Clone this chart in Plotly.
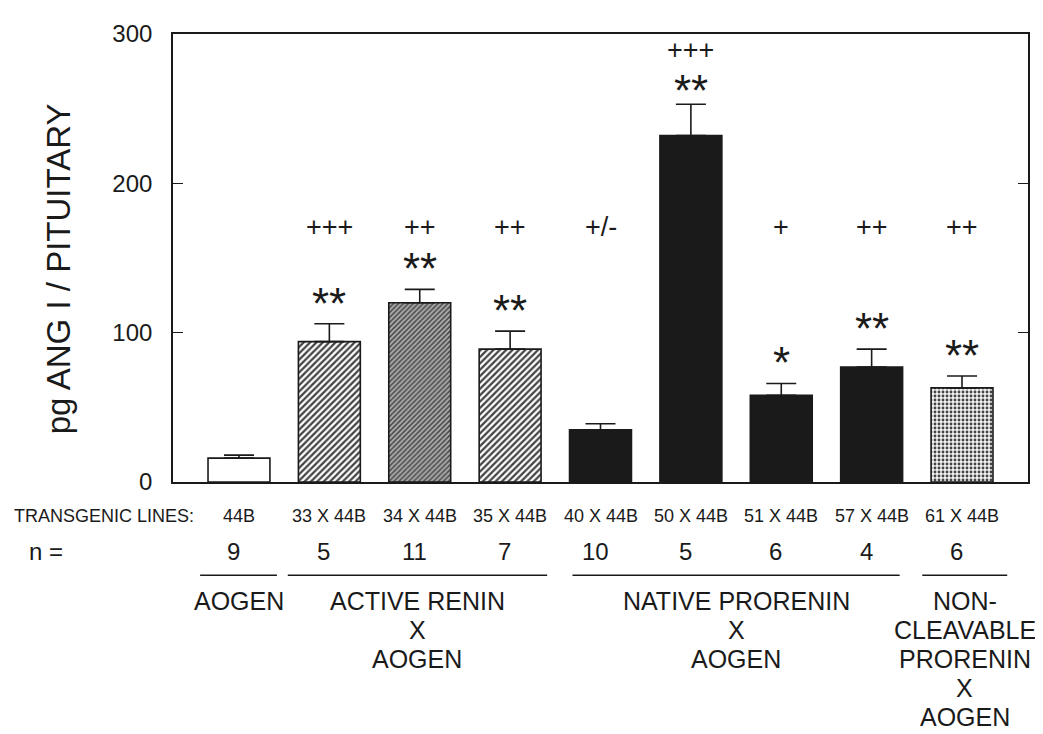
import plotly.graph_objects as go

# ---- data ----
lines = ["44B", "33 X 44B", "34 X 44B", "35 X 44B", "40 X 44B",
         "50 X 44B", "51 X 44B", "57 X 44B", "61 X 44B"]
values = [16, 94, 120, 89, 35, 232, 58, 77, 63]
errors = [2, 12, 9, 12, 4, 21, 8, 12, 8]
n_values = [9, 5, 11, 7, 10, 5, 6, 4, 6]
stars = ["", "**", "**", "**", "", "**", "*", "**", "**"]
pluses = ["", "+++", "++", "++", "+/-", "+++", "+", "++", "++"]
group_labels = ["AOGEN", "ACTIVE RENIN<br>X<br>AOGEN",
                "NATIVE PRORENIN<br>X<br>AOGEN",
                "NON-<br>CLEAVABLE<br>PRORENIN<br>X<br>AOGEN"]
group_members = [[0], [1, 2, 3], [4, 5, 6, 7], [8]]
y_ticks = [0, 100, 200, 300]
y_title = "pg ANG I / PITUITARY"

FONT = "Liberation Sans, Arial, sans-serif"
INK = "#1a1a1a"

# ---- styling per bar ----
fills = ["white", "white", "#b0b0b0", "white", INK, INK, INK, INK, "#f1f1f1"]
shapes_p = ["", "/", "/", "/", "", "", "", "", "."]
fg = [INK, "#1e1e1e", "#4a4a4a", "#1e1e1e", INK, INK, INK, INK, "#a8a8a8"]
sol = [0.3, 0.5, 0.45, 0.5, 0.3, 0.3, 0.3, 0.3, 0.4]
psize = [6, 4.5, 3.5, 4.5, 6, 6, 6, 6, 4]

x = list(range(len(lines)))

# page offset: the browser body adds 8 px around the figure
OFF = 8
# screen-pixel frame of the plotting area in the reference
SL, SR, ST, SB = 173, 1028, 25, 482
L = SL - OFF
T = ST - OFF
R = 1043 - (SR - OFF)
B = 734 - (SB - OFF)
H = SB - ST
W = SR - SL


def py(p):
    return (SB - p) / H


def px(p):
    return (p - SL) / W


fig = go.Figure()
fig.add_trace(go.Bar(
    x=x, y=values, width=0.685,
    marker=dict(color=fills, line=dict(color=INK, width=1.6),
                pattern=dict(shape=shapes_p, fgcolor=fg, fgopacity=1,
                             size=psize, solidity=sol, fillmode="overlay")),
    error_y=dict(type="data", array=errors, arrayminus=[0] * len(errors),
                 symmetric=False, color=INK, thickness=1.6, width=15),
    showlegend=False, hoverinfo="skip",
))

ann = []
# stars (box trimmed tightly around the asterisk glyphs) and plus signs
PLUS_LEVEL = 171
for i in x:
    top = values[i] + errors[i]
    crowded = (pluses[i] and i == 5)
    if stars[i]:
        ann.append(dict(x=i, y=top, xref="x", yref="y", text=stars[i],
                        showarrow=False, yanchor="middle",
                        yshift=25 if crowded else 32,
                        height=26, valign="top",
                        font=dict(family=FONT, size=44, color=INK)))
    if pluses[i]:
        if crowded:
            ann.append(dict(x=i, y=top, xref="x", yref="y", text=pluses[i],
                            showarrow=False, yanchor="middle", yshift=54,
                            font=dict(family=FONT, size=27, color=INK)))
        else:
            ann.append(dict(x=i, y=PLUS_LEVEL, xref="x", yref="y",
                            text=pluses[i], showarrow=False,
                            yanchor="middle",
                            font=dict(family=FONT, size=27, color=INK)))

# transgenic lines row
ann.append(dict(x=px(12), y=py(517), xref="paper", yref="paper",
                text="TRANSGENIC LINES:", showarrow=False, xanchor="left",
                yanchor="middle", font=dict(family=FONT, size=18, color=INK)))
for i in x:
    ann.append(dict(x=i, y=py(517), xref="x", yref="paper", text=lines[i],
                    showarrow=False, yanchor="middle",
                    font=dict(family=FONT, size=18, color=INK)))
# n row
ann.append(dict(x=px(27), y=py(553), xref="paper", yref="paper",
                text="n =", showarrow=False, xanchor="left",
                yanchor="middle", font=dict(family=FONT, size=24, color=INK)))
for i in x:
    ann.append(dict(x=i - 0.06, y=py(553), xref="x", yref="paper",
                    text=str(n_values[i]), showarrow=False, yanchor="middle",
                    font=dict(family=FONT, size=24, color=INK)))

# group underlines and labels (one annotation per text line)
pads = [(0.43, 0.42), (0.46, 0.41), (0.31, 0.31), (0.44, 0.5)]
shapes = []
for g, members in enumerate(group_members):
    x0 = members[0] - pads[g][0]
    x1 = members[-1] + pads[g][1]
    shapes.append(dict(type="line", xref="x", yref="paper", x0=x0, x1=x1,
                       y0=py(577), y1=py(577),
                       line=dict(color=INK, width=1.5)))
    for k, part in enumerate(group_labels[g].split("<br>")):
        ann.append(dict(x=(x0 + x1) / 2, y=py(603 + 29.7 * k), xref="x",
                        yref="paper", text=part, showarrow=False,
                        yanchor="middle", align="center",
                        font=dict(family=FONT, size=25, color=INK)))

# y-axis title
ann.append(dict(x=px(58), y=py(265), xref="paper", yref="paper",
                text=y_title, showarrow=False, textangle=-90,
                xanchor="center", yanchor="middle",
                font=dict(family=FONT, size=33, color=INK)))

fig.update_layout(
    width=1043, height=734,
    margin=dict(l=L, r=R, t=T, b=B),
    paper_bgcolor="white", plot_bgcolor="white",
    annotations=ann, shapes=shapes,
    xaxis=dict(range=[-0.73, 8.73], showticklabels=False, ticks="",
               showgrid=False, zeroline=False, showline=True,
               linecolor=INK, linewidth=1.6, mirror=True),
    yaxis=dict(range=[0, 300], tickvals=y_ticks, ticks="inside",
               ticklen=10, tickwidth=1.4, tickcolor=INK,
               ticklabelstandoff=14,
               showgrid=False, zeroline=False, showline=True,
               linecolor=INK, linewidth=1.6, mirror="ticks",
               tickfont=dict(family=FONT, size=24, color=INK)),
)

fig.write_html("out.html")
